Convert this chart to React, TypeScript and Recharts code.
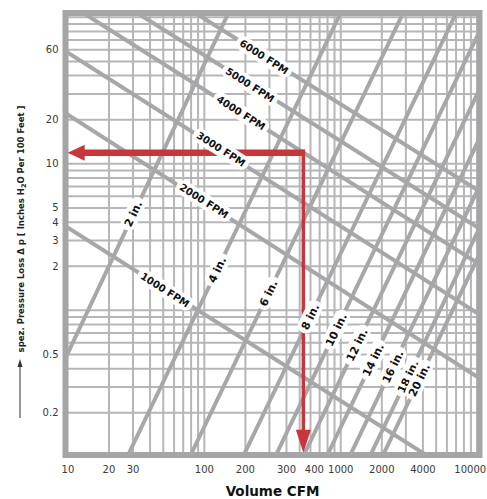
import React from 'react';
import { ComposedChart, Line, XAxis, YAxis, CartesianGrid, ReferenceArea } from 'recharts';

// log-log duct friction chart: Volume CFM vs pressure loss
const xDomain = [9.6, 10400];
const yDomain = [0.103, 107];

const xTicks = [10, 20, 30, 100, 200, 400, 640, 1000, 2000, 4000, 8900];
const xTickLabels = ['10', '20', '30', '100', '200', '300', '400', '1000', '2000', '4000', '10000'];
const yTicks = [0.2, 0.5, 2, 3, 4, 5, 10, 20, 60];

const xGrid = [20, 30, 40, 50, 60, 70, 80, 90, 100, 200, 300, 400, 500, 600, 700, 800, 900, 1000,
  2000, 3000, 4000, 5000, 6000, 7000, 8000, 9000, 10000];
const yGrid = [0.2, 0.3, 0.4, 0.5, 0.6, 0.7, 0.8, 0.9, 1, 2, 3, 4, 5, 6, 7, 8, 9, 10,
  20, 30, 40, 50, 60, 70, 80, 90, 100];

// velocity lines [cfm, loss]
const fpmNames = ['1000 FPM', '2000 FPM', '3000 FPM', '4000 FPM', '5000 FPM', '6000 FPM'];
const fpmStart = [[9.6, 3.75], [9.6, 22.2], [9.6, 58.7], [12.97, 107], [32.2, 107], [85.8, 107]];
const fpmEnd = [[4222, 0.103], [10400, 0.344], [10400, 0.937], [10400, 2.06], [10400, 3.62], [10400, 6.49]];
const fpmLabelAt = [[51.5, 1.38], [99.5, 5.59], [132.6, 12.6], [185.8, 22.3], [216.3, 34.6], [274, 53.7]];

// duct diameter lines [cfm, loss]
const ductNames = ['2 in.', '4 in.', '6 in.', '8 in.', '10 in.', '12 in.', '14 in.', '16 in.', '18 in.', '20 in.'];
const ductStart = [[9.6, 0.472], [27.6, 0.103], [79.4, 0.103], [194.5, 0.103], [334.9, 0.103],
  [536.3, 0.103], [797.6, 0.103], [1174, 0.103], [1651, 0.103], [2042, 0.103]];
const ductEnd = [[150.2, 107], [998.5, 107], [2867, 107], [7028, 107], [10400, 80.3],
  [10400, 32.2], [10400, 14.9], [10400, 7.05], [10400, 3.66], [10400, 2.42]];
const ductLabelAt = [[30, 4.56], [123.9, 1.89], [294.6, 1.31], [595.6, 0.903], [923.8, 0.736],
  [1311, 0.581], [1725, 0.459], [2406, 0.413], [3114, 0.353], [3751, 0.335]];

// red reading arrows
const arrowLeft = [{ q: 547, p: 11.9 }, { q: 12.2, p: 11.9 }];
const arrowDown = [{ q: 532, p: 12.5 }, { q: 532, p: 0.131 }];

const GRAY = '#a7a7a9';
const RED = '#c8363b';
const FONT = 'DejaVu Sans';

const charW: Record<string, number> = { ' ': 0.35, i: 0.34, n: 0.71, '.': 0.38, F: 0.68, P: 0.73, M: 1.0 };
const textWidth = (s: string, size: number) =>
  s.split('').reduce((acc, c) => acc + (charW[c] ?? 0.7), 0) * size;

const makeLabel = (text: string, angle: number, size: number) => (props: any) => {
  const { cx, cy, index } = props;
  if (cx == null || cy == null) return <g key={`l-${index}`} />;
  const w = textWidth(text, size) + 8;
  const h = size + 5;
  return (
    <g key={`l-${index}`} transform={`translate(${cx},${cy}) rotate(${angle})`}>
      <rect x={-w / 2} y={-h / 2} width={w} height={h} rx={h / 2} fill="#fff" />
      <text textAnchor="middle" dy="0.36em" fontSize={size} fontWeight="bold" fontFamily={FONT} fill="#111">
        {text}
      </text>
    </g>
  );
};

const headLeft = (props: any) => {
  const { cx, cy, index } = props;
  if (index !== 1) return <g key={`h-${index}`} />;
  return <polygon key={`h-${index}`} points={`${cx - 12},${cy} ${cx + 5},${cy - 8} ${cx + 5},${cy + 8}`} fill={RED} />;
};

const headDown = (props: any) => {
  const { cx, cy, index } = props;
  if (index !== 1) return <g key={`h-${index}`} />;
  return <polygon key={`h-${index}`} points={`${cx},${cy + 13} ${cx - 7.5},${cy - 10} ${cx + 7.5},${cy - 10}`} fill={RED} />;
};

const YTitle = (props: any) => {
  const { x, y, height } = props.viewBox;
  const cx = x + 24;
  const cy = y + height / 2 - 5;
  return (
    <g>
      <text transform={`translate(${cx},${cy}) rotate(-90)`} textAnchor="middle" fontSize={8.5}
        fontWeight="bold" fontFamily={FONT} fill="#222">
        spez. Pressure Loss Δ p [ Inches H<tspan dy={2} fontSize={6.5}>2</tspan><tspan dy={-2}>O Per 100 Feet ]</tspan>
      </text>
      <line x1={x + 20} y1={y + 405} x2={x + 20} y2={y + 352} stroke="#333" strokeWidth={1} />
      <polygon points={`${x + 20},${y + 346} ${x + 17.5},${y + 354} ${x + 22.5},${y + 354}`} fill="#333" />
    </g>
  );
};

const XTitle = (props: any) => {
  const { x, y, width } = props.viewBox;
  return (
    <text x={x + width / 2} y={y + 41} textAnchor="middle" fontSize={13.5} fontWeight="bold" fontFamily={FONT} fill="#111">
      Volume CFM
    </text>
  );
};

const toPts = (a: number[], b: number[]) => [{ q: a[0], p: a[1] }, { q: b[0], p: b[1] }];

export default function App() {
  const tickStyle = { fontSize: 10, fill: '#3a3a3a', fontFamily: FONT };
  return (
    <div style={{ position: 'absolute', left: 0, top: 0 }}>
      <ComposedChart width={487} height={499} margin={{ top: 13, right: 7.5, bottom: 0, left: 0 }}>
        <CartesianGrid horizontalValues={yGrid} verticalValues={xGrid} stroke="#b6b6b8" strokeWidth={2} />
        <XAxis type="number" dataKey="q" scale="log" domain={xDomain} allowDataOverflow ticks={xTicks}
          interval={0} tickFormatter={(v: number) => xTickLabels[xTicks.indexOf(v)] ?? String(v)}
          tickLine={false} axisLine={false} tickSize={6} tickMargin={5} height={44} tick={tickStyle}
          label={<XTitle />} />
        <YAxis type="number" dataKey="p" scale="log" domain={yDomain} allowDataOverflow ticks={yTicks}
          interval={0} tickFormatter={(v: number) => String(v)} tickLine={false} axisLine={false}
          tickSize={6} tickMargin={1} width={65.5} tick={tickStyle} label={<YTitle />} />

        {fpmNames.map((n, i) => (
          <Line key={n} data={toPts(fpmStart[i], fpmEnd[i])} dataKey="p" type="linear" stroke={GRAY}
            strokeWidth={4} dot={false} activeDot={false} isAnimationActive={false} />
        ))}
        {ductNames.map((n, i) => (
          <Line key={n} data={toPts(ductStart[i], ductEnd[i])} dataKey="p" type="linear" stroke={GRAY}
            strokeWidth={4} dot={false} activeDot={false} isAnimationActive={false} />
        ))}

        {fpmNames.map((n, i) => (
          <Line key={`lab-${n}`} data={[{ q: fpmLabelAt[i][0], p: fpmLabelAt[i][1] }]} dataKey="p"
            stroke="none" dot={makeLabel(n, 32.4, 10)} activeDot={false} isAnimationActive={false} />
        ))}

        <Line data={arrowLeft} dataKey="p" type="linear" stroke={RED} strokeWidth={6.5} dot={headLeft}
          activeDot={false} isAnimationActive={false} />
        <Line data={arrowDown} dataKey="p" type="linear" stroke={RED} strokeWidth={3.5} dot={headDown}
          activeDot={false} isAnimationActive={false} />

        {ductNames.map((n, i) => (
          <Line key={`lab-${n}`} data={[{ q: ductLabelAt[i][0], p: ductLabelAt[i][1] }]} dataKey="p"
            stroke="none" dot={makeLabel(n, -64.3, 11)} activeDot={false} isAnimationActive={false} />
        ))}

        <ReferenceArea x1={xDomain[0]} x2={xDomain[1]} y1={yDomain[0]} y2={yDomain[1]} fill="none"
          stroke="#a5a5a7" strokeWidth={6} />
      </ComposedChart>
    </div>
  );
}
